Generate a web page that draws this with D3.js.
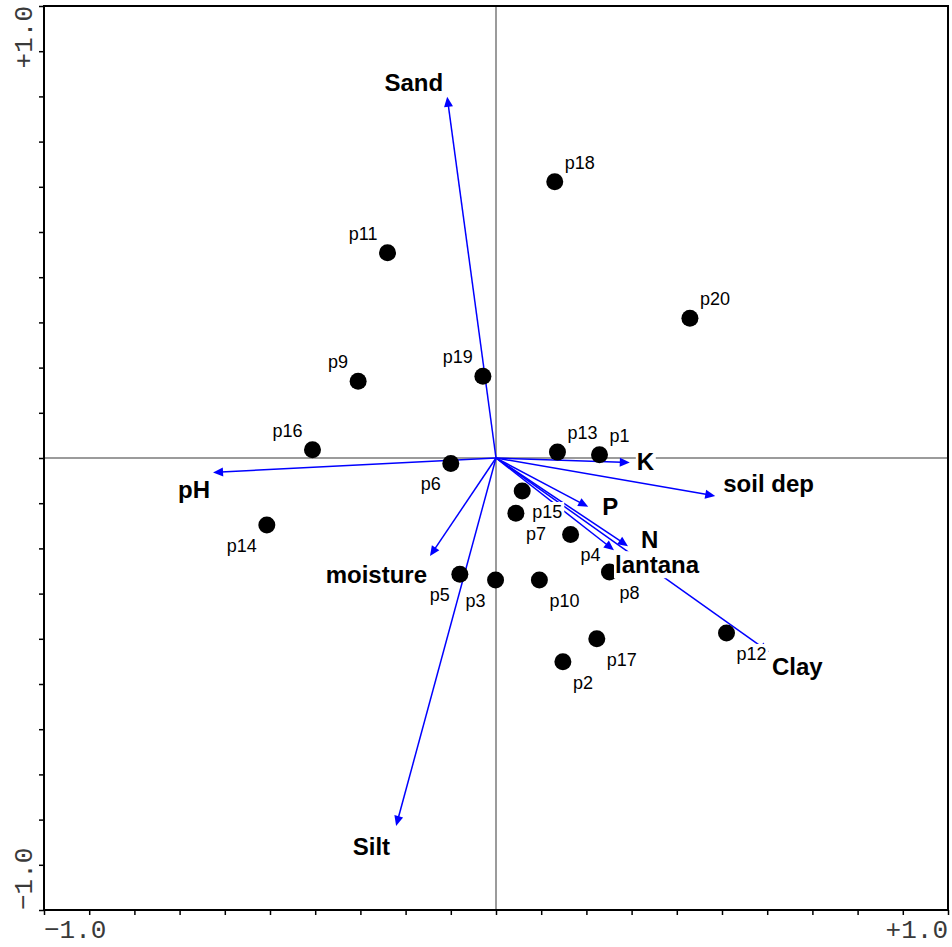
<!DOCTYPE html>
<html>
<head>
<meta charset="utf-8">
<script src="https://cdn.jsdelivr.net/npm/d3@7"></script>
<style>
  body { margin: 0; background: #fff; }
  svg { display: block; }
</style>
</head>
<body>
<svg id="chart" width="952" height="947"></svg>
<script>
// ---------- DATA ----------
const siteNames = ["p1","p2","p3","p4","p5","p6","p7","p8","p9","p10",
                   "p11","p12","p13","p14","p15","p16","p17","p18","p19","p20"];
const siteX = [0.229, 0.148, -0.001, 0.165, -0.080, -0.100, 0.044, 0.251, -0.305, 0.096,
               -0.240, 0.510, 0.136, -0.507, 0.058, -0.406, 0.223, 0.130, -0.029, 0.429];
const siteY = [0.007, -0.451, -0.270, -0.169, -0.257, -0.012, -0.122, -0.252, 0.170, -0.270,
               0.454, -0.387, 0.013, -0.148, -0.073, 0.018, -0.400, 0.611, 0.181, 0.309];

const envNames = ["Sand","pH","K","soil dep","P","N","lantana","Clay","moisture","Silt"];
const envX = [-0.108, -0.626, 0.296, 0.485, 0.204, 0.292, 0.261, 0.604, -0.146, -0.221];
const envY = [0.799, -0.032, -0.010, -0.084, -0.108, -0.195, -0.204, -0.429, -0.217, -0.814];

const axisTickLabels = ["\u22121.0", "+1.0"];
const axisDomain = [-1, 1];

// ---------- LAYOUT (label placement, not data) ----------
const siteLabelSide = ["ur","dr","dl","dr","dl","dl","dr","dr","ul","dr",
                       "ul","dr","ur","dl","dr","ul","dr","ur","ul","ur"];
const sideRule = {
  ur: {anchor: "start", dx: 10, dy: -13},
  ul: {anchor: "end",   dx: -10, dy: -13},
  dr: {anchor: "start", dx: 10, dy: 27},
  dl: {anchor: "end",   dx: -10, dy: 27}
};
const envLabelAnchor = ["end","end","start","start","start","start","start","start","end","end"];
const envLabelDx = [-4, -3, 7, 8, 14, 13, 1, 3, -3, -6];
const envLabelDy = [-6, 26, 7, -4, 8, 2, 23, 23, 27, 29];

// ---------- CHART ----------
const svg = d3.select("#chart");
svg.append("rect").attr("width", 952).attr("height", 947).attr("fill", "#fff");

const x = d3.scaleLinear().domain(axisDomain).range([44, 948]);
const y = d3.scaleLinear().domain(axisDomain).range([910, 6]);

const tickVals = d3.range(-10, 11).map(i => i / 10);

// centre cross lines
svg.append("line")
  .attr("x1", x(0)).attr("x2", x(0)).attr("y1", y(1)).attr("y2", y(-1))
  .attr("stroke", "#7a7a7a").attr("stroke-width", 1.5);
svg.append("line")
  .attr("x1", x(-1)).attr("x2", x(1)).attr("y1", y(0)).attr("y2", y(0))
  .attr("stroke", "#7a7a7a").attr("stroke-width", 1.5);

// tick marks
const bottomAxis = svg.append("g").attr("transform", `translate(0,${y(-1)})`)
  .call(d3.axisBottom(x).tickValues(tickVals).tickSize(5).tickSizeOuter(0).tickFormat(""));
const leftAxis = svg.append("g").attr("transform", `translate(${x(-1)},0)`)
  .call(d3.axisLeft(y).tickValues(tickVals).tickSize(5).tickSizeOuter(0).tickFormat(""));
[bottomAxis, leftAxis].forEach(g => {
  g.select(".domain").remove();
  g.selectAll(".tick line").attr("stroke", "#000").attr("stroke-width", 1.5);
});

// frame
svg.append("rect")
  .attr("x", x(-1)).attr("y", y(1))
  .attr("width", x(1) - x(-1)).attr("height", y(-1) - y(1))
  .attr("fill", "none").attr("stroke", "#000").attr("stroke-width", 2);

// tick labels
const tickFont = "'Liberation Mono', 'DejaVu Sans Mono', monospace";
const tickColor = "#3a3a3a";
svg.append("text").text(axisTickLabels[0])
  .attr("x", x(-1)).attr("y", 938)
  .attr("text-anchor", "start").attr("font-family", tickFont).attr("font-size", 26).attr("fill", tickColor);
svg.append("text").text(axisTickLabels[1])
  .attr("x", x(1)).attr("y", 938)
  .attr("text-anchor", "end").attr("font-family", tickFont).attr("font-size", 26).attr("fill", tickColor);
svg.append("text").text(axisTickLabels[1])
  .attr("transform", `translate(32,${y(1)}) rotate(-90)`)
  .attr("text-anchor", "end").attr("font-family", tickFont).attr("font-size", 26).attr("fill", tickColor);
svg.append("text").text(axisTickLabels[0])
  .attr("transform", `translate(32,${y(-1)}) rotate(-90)`)
  .attr("text-anchor", "start").attr("font-family", tickFont).attr("font-size", 26).attr("fill", tickColor);

// arrows
const arrowG = svg.append("g");
const ox = x(0), oy = y(0);
const headLen = 10, headHalf = 4.5;
envNames.forEach((name, i) => {
  const tx = x(envX[i]), ty = y(envY[i]);
  const L = Math.hypot(tx - ox, ty - oy);
  const ux = (tx - ox) / L, uy = (ty - oy) / L;
  const nx = -uy, ny = ux;
  arrowG.append("line")
    .attr("x1", ox).attr("y1", oy)
    .attr("x2", tx - ux * (headLen - 2)).attr("y2", ty - uy * (headLen - 2))
    .attr("stroke", "#0000ff").attr("stroke-width", 1.5);
  const bx = tx - ux * headLen, by = ty - uy * headLen;
  arrowG.append("polygon")
    .attr("points", [[tx, ty], [bx + nx * headHalf, by + ny * headHalf], [bx - nx * headHalf, by - ny * headHalf]]
      .map(p => p.join(",")).join(" "))
    .attr("fill", "#0000ff");
});

// sites
svg.append("g").selectAll("circle")
  .data(siteNames.map((n, i) => ({n, vx: siteX[i], vy: siteY[i]})))
  .join("circle")
  .attr("cx", d => x(d.vx)).attr("cy", d => y(d.vy))
  .attr("r", 8.5).attr("fill", "#000");

// labels with white backgrounds
const labelG = svg.append("g");
function addLabel(txt, px, py, anchor, size, weight, pad) {
  const g = labelG.append("g");
  const t = g.append("text").text(txt)
    .attr("x", px).attr("y", py)
    .attr("text-anchor", anchor)
    .attr("font-family", "'Liberation Sans', Arial, sans-serif")
    .attr("font-size", size).attr("font-weight", weight).attr("fill", "#000");
  const bb = t.node().getBBox();
  g.insert("rect", "text")
    .attr("x", bb.x - pad).attr("y", bb.y)
    .attr("width", bb.width + 2 * pad).attr("height", bb.height)
    .attr("fill", "#fff");
}

siteNames.forEach((n, i) => {
  const r = sideRule[siteLabelSide[i]];
  addLabel(n, x(siteX[i]) + r.dx, y(siteY[i]) + r.dy, r.anchor, 18, "normal", 2);
});
envNames.forEach((n, i) => {
  addLabel(n, x(envX[i]) + envLabelDx[i], y(envY[i]) + envLabelDy[i], envLabelAnchor[i], 24, "bold", 1);
});
</script>
</body>
</html>
